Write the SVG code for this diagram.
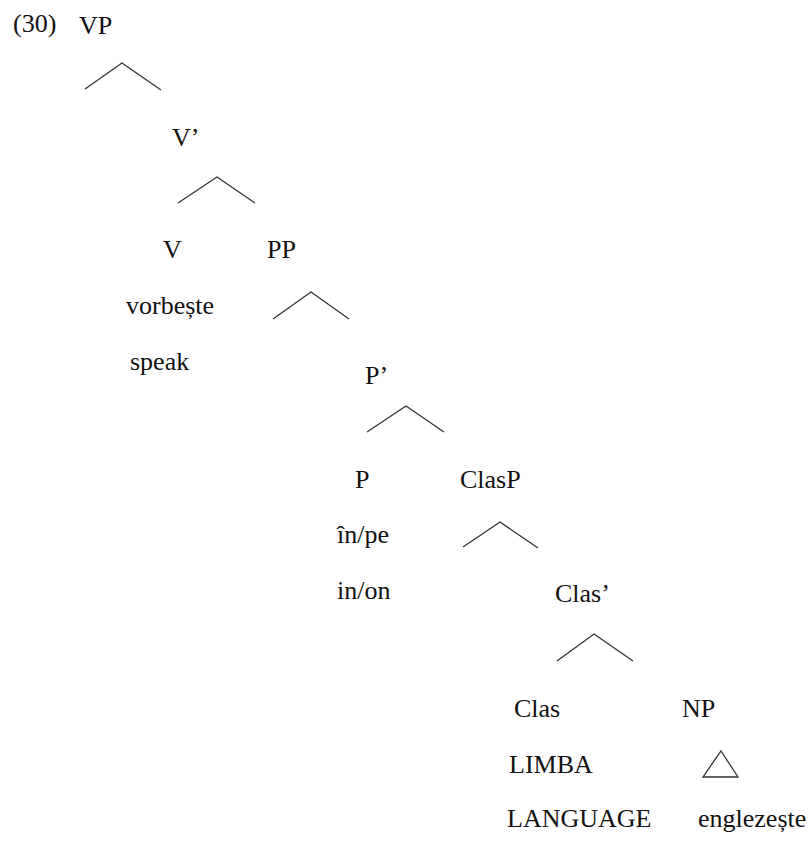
<svg xmlns="http://www.w3.org/2000/svg" width="811" height="841" viewBox="0 0 811 841">
  <style>
    .edge { fill: none; stroke: #333; stroke-width: 1.3; stroke-linejoin: miter; }
  </style>
  <rect width="811" height="841" fill="#fff"/>

  <g font-family="'Liberation Serif', 'Times New Roman', Tinos, 'DejaVu Serif', serif" font-size="26" fill="#111">
    <!-- example number -->
    <text id="ex-num" x="13" y="32">(30)</text>

    <!-- category and word labels -->
    <g id="n-VP"><text x="79" y="34">VP</text></g>
    <g id="n-Vbar"><text x="172" y="146">V’</text></g>
    <g id="n-V"><text x="163" y="258">V</text></g>
    <g id="n-PP"><text x="267" y="258">PP</text></g>
    <g id="w-vorbeste"><text x="126" y="314">vorbește</text></g>
    <g id="g-speak"><text x="130" y="370">speak</text></g>
    <g id="n-Pbar"><text x="365" y="384">P’</text></g>
    <g id="n-P"><text x="355" y="488">P</text></g>
    <g id="n-ClasP"><text x="460" y="488">ClasP</text></g>
    <g id="w-inpe"><text x="337" y="543">în/pe</text></g>
    <g id="g-inon"><text x="337" y="599">in/on</text></g>
    <g id="n-Clasbar"><text x="555" y="602">Clas’</text></g>
    <g id="n-Clas"><text x="514" y="717">Clas</text></g>
    <g id="n-NP"><text x="682" y="717">NP</text></g>
    <g id="w-limba"><text x="509" y="773">LIMBA</text></g>
    <g id="g-language"><text x="507" y="827">LANGUAGE</text></g>
    <g id="w-englezeste"><text x="698" y="827">englezește</text></g>
  </g>

  <!-- branching connectors -->
  <g id="connectors">
    <polyline class="edge" points="85,89 122,63 161,90"/>
    <polyline class="edge" points="178,203 217,177 255,203"/>
    <polyline class="edge" points="273,319 311,292 349,319"/>
    <polyline class="edge" points="367,432 406,406 444,432"/>
    <polyline class="edge" points="463,547 500,522 538,548"/>
    <polyline class="edge" points="557,661 594,634 633,661"/>
    <polygon class="edge" points="721,751 738,777 703,777"/>
  </g>
</svg>
